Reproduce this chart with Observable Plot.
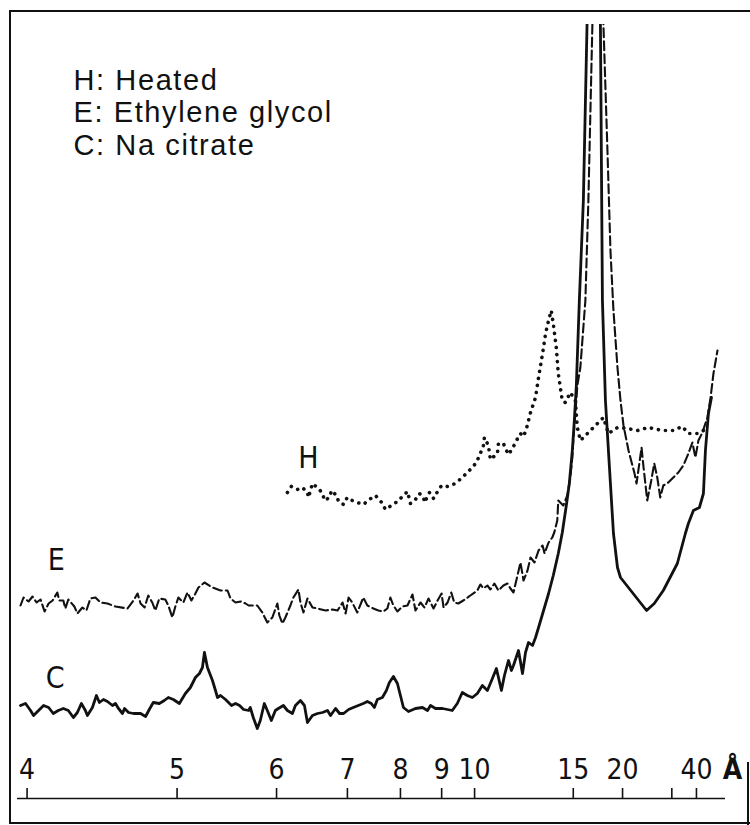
<!DOCTYPE html>
<html><head><meta charset="utf-8">
<script src="https://cdn.jsdelivr.net/npm/d3@7"></script>
<script src="https://cdn.jsdelivr.net/npm/@observablehq/plot@0.6"></script>
<style>
html,body{margin:0;padding:0;background:#fff;}
#wrap{position:relative;width:750px;height:825px;overflow:hidden;background:#fff;}
#chart{position:absolute;left:0;top:0;}
#frame{position:absolute;left:9px;top:10px;width:760px;height:810px;border-left:2px solid #111;border-top:2px solid #111;border-bottom:2px solid #111;z-index:2;pointer-events:none;}
#rightEdge{position:absolute;left:747px;top:762px;width:2px;height:63px;background:#111;z-index:2;}
</style></head><body>
<div id="wrap"><div id="chart"></div><div id="frame"></div><div id="rightEdge"></div></div>
<script>
// d-spacing ticks (Å) and their labels
const tickSpacings = [4, 5, 6, 7, 8, 9, 10, 15, 20, 30, 40];
const tickLabels   = ["4","5","6","7","8","9","10","15","20","","40"];
const unitLabel = "Å";
const seriesCodes = ["H", "E", "C"];
const seriesNames = ["Heated", "Ethylene glycol", "Na citrate"];

// traces: [2θ (deg, CuKα), intensity (arbitrary)]
const curveC = [
[22.42,95],[22.27,97],[22.12,90],[22.03,85],[21.88,90],[21.73,95],[21.58,93],[21.44,87],[21.29,90],[21.14,92],[20.99,90],[20.84,83],[20.72,88],[20.60,97],[20.48,90],[20.42,85],[20.27,93],[20.15,105],[20.06,98],[19.94,101],[19.82,99],[19.67,95],[19.58,97],[19.49,92],[19.37,87],[19.31,92],[19.19,88],[19.04,87],[18.83,87],[18.68,84],[18.57,91],[18.45,98],[18.27,97],[18.12,100],[18.00,103],[17.85,101],[17.67,97],[17.49,107],[17.34,113],[17.19,123],[17.07,127],[16.98,133],[16.92,148],[16.83,133],[16.68,120],[16.59,110],[16.53,103],[16.44,105],[16.29,101],[16.11,95],[15.99,97],[15.87,95],[15.75,91],[15.60,90],[15.55,93],[15.46,83],[15.34,72],[15.25,80],[15.13,97],[15.04,90],[14.92,80],[14.80,90],[14.71,92],[14.56,95],[14.44,90],[14.29,87],[14.20,95],[14.05,100],[13.93,95],[13.84,78],[13.69,85],[13.54,87],[13.39,88],[13.24,90],[13.15,85],[13.00,92],[12.88,87],[12.76,87],[12.61,91],[12.47,93],[12.32,95],[12.17,97],[12.05,99],[11.93,97],[11.84,93],[11.75,101],[11.60,103],[11.48,110],[11.39,118],[11.27,124],[11.15,117],[11.06,105],[10.97,93],[10.82,89],[10.61,92],[10.40,93],[10.25,90],[10.16,95],[10.01,92],[9.80,92],[9.51,90],[9.36,97],[9.21,108],[9.06,105],[8.91,103],[8.76,107],[8.61,115],[8.46,110],[8.31,122],[8.19,132],[8.04,110],[7.95,125],[7.83,140],[7.74,130],[7.68,135],[7.53,150],[7.41,127],[7.32,148],[7.23,158],[7.11,155],[7.02,163],[6.93,173],[6.78,190],[6.63,207],[6.49,225],[6.34,247],[6.22,268],[6.10,295],[6.01,317],[5.92,350],[5.86,380],[5.80,415],[5.71,500],[5.59,600],[5.48,776],[5.29,1400],[5.08,776],[5.02,500],[4.93,400],[4.81,333],[4.69,267],[4.57,233],[4.48,223],[3.70,190],[3.47,197],[3.20,210],[2.78,237],[2.54,267],[2.45,277],[2.30,290],[2.12,293],[2.00,307],[1.94,350],[1.85,387],[1.76,403]
];
const curveE = [
[22.42,195],[22.33,203],[22.18,199],[22.06,204],[21.94,198],[21.82,201],[21.70,189],[21.58,197],[21.46,200],[21.32,208],[21.26,200],[21.14,200],[21.08,192],[20.99,201],[20.81,194],[20.72,187],[20.57,193],[20.45,190],[20.33,202],[20.18,203],[20.03,198],[19.82,197],[19.58,194],[19.22,192],[19.04,200],[18.92,207],[18.83,197],[18.71,193],[18.60,205],[18.48,198],[18.39,190],[18.27,202],[18.09,201],[18.00,195],[17.88,183],[17.79,194],[17.70,203],[17.55,198],[17.43,208],[17.31,200],[17.19,207],[17.10,213],[16.92,218],[16.68,213],[16.44,210],[16.23,210],[16.14,202],[15.99,198],[15.84,199],[15.69,197],[15.60,195],[15.34,195],[15.19,188],[15.04,178],[14.89,183],[14.74,197],[14.68,185],[14.59,177],[14.50,183],[14.35,195],[14.26,203],[14.11,211],[14.05,198],[13.96,188],[13.84,202],[13.69,193],[13.54,192],[13.30,190],[13.09,191],[12.94,190],[12.79,198],[12.70,187],[12.61,203],[12.50,198],[12.35,188],[12.17,203],[12.05,195],[11.87,192],[11.72,190],[11.57,189],[11.45,192],[11.36,203],[11.27,195],[11.15,189],[11.00,194],[10.85,195],[10.70,206],[10.61,190],[10.46,198],[10.34,193],[10.22,202],[10.07,192],[9.95,200],[9.83,207],[9.77,193],[9.65,198],[9.54,208],[9.45,198],[9.33,197],[9.18,200],[8.97,205],[8.76,210],[8.67,216],[8.58,212],[8.46,215],[8.37,211],[8.25,217],[8.13,210],[7.98,215],[7.86,217],[7.77,212],[7.68,208],[7.56,225],[7.47,238],[7.38,220],[7.26,230],[7.17,243],[7.05,238],[6.93,250],[6.81,255],[6.75,247],[6.63,258],[6.52,263],[6.46,268],[6.37,280],[6.34,300],[6.19,295],[6.07,305],[5.98,323],[5.92,343],[5.89,360],[5.83,387],[5.77,415],[5.68,433],[5.53,500],[5.44,600],[5.32,776],[5.17,1400],[4.99,776],[4.87,650],[4.78,550],[4.69,490],[4.57,433],[4.48,400],[4.39,375],[4.24,350],[4.06,327],[4.00,317],[3.85,353],[3.79,333],[3.68,300],[3.56,320],[3.47,337],[3.38,323],[3.29,303],[3.20,315],[3.05,318],[2.90,323],[2.75,328],[2.60,335],[2.45,347],[2.33,358],[2.24,343],[2.15,360],[2.03,368],[1.88,383],[1.79,402],[1.70,427],[1.58,450]
];
const curveH = [
[14.44,308],[14.32,314],[14.14,311],[13.99,313],[13.84,308],[13.81,303],[13.69,317],[13.51,312],[13.39,307],[13.33,300],[13.18,303],[13.12,310],[12.97,305],[12.91,299],[12.76,296],[12.65,303],[12.50,300],[12.35,298],[12.17,296],[11.99,301],[11.81,305],[11.72,302],[11.60,297],[11.51,291],[11.33,295],[11.15,299],[10.97,305],[10.85,309],[10.76,297],[10.61,301],[10.49,307],[10.37,303],[10.34,298],[10.19,308],[10.07,302],[9.95,309],[9.83,315],[9.65,314],[9.48,316],[9.24,322],[9.06,328],[8.91,333],[8.79,338],[8.67,347],[8.58,355],[8.55,363],[8.43,355],[8.37,341],[8.16,347],[8.13,357],[7.98,357],[7.92,352],[7.83,346],[7.71,352],[7.59,360],[7.47,367],[7.38,364],[7.29,372],[7.17,388],[7.08,397],[7.02,403],[6.93,423],[6.81,447],[6.72,467],[6.63,480],[6.55,490],[6.49,477],[6.40,453],[6.34,427],[6.22,400],[6.13,398],[5.98,408],[5.83,400],[5.77,373],[5.68,360],[5.47,367],[5.17,377],[4.99,383],[4.84,367],[4.57,373],[4.27,372],[3.97,370],[3.65,373],[3.23,370],[2.90,370],[2.63,374],[2.45,367],[2.18,367],[2.00,370]
];
// curve label anchor points [2θ, intensity]
const labelPos = [[13.81, 342], [21.35, 240], [21.38, 122]];

const lambda = 1.5418;
const twoTheta = d => 2 * Math.asin(lambda / (2 * d)) * 180 / Math.PI;
const tickPos = tickSpacings.map(twoTheta);
const tickText = new Map(tickPos.map((t, i) => [t, tickLabels[i]]));

const narrow = "'Liberation Sans Narrow', 'DejaVu Sans Condensed', 'Arial Narrow', sans-serif";
const sans = "'Liberation Sans', Arial, Helvetica, sans-serif";
const ink = "#111";

const legendText = seriesCodes.map((c, i) => `${c}: ${seriesNames[i]}`).join("\n");
const labels = seriesCodes.map((c, i) => ({code: c, t: labelPos[i][0], v: labelPos[i][1]}));

const chart = Plot.plot({
  width: 750,
  height: 825,
  marginLeft: 17,
  marginRight: 25,
  marginTop: 24,
  marginBottom: 27,
  style: {background: "transparent", fontFamily: sans, color: ink},
  x: {domain: [22.51, 1.34], label: null},
  y: {domain: [2, 776], axis: null},
  marks: [
    Plot.ruleY([2], {stroke: ink, strokeWidth: 1.6}),
    Plot.ruleX(tickPos, {x: d => d, y1: 2, y2: 12, stroke: ink, strokeWidth: 1.6}),
    Plot.axisX(tickPos, {
      tickSize: 0, tickPadding: -20, lineAnchor: "bottom",
      tickFormat: t => tickText.get(t),
      fontSize: 28, fontFamily: narrow, fill: ink
    }),
    Plot.text([unitLabel], {text: d => d, frameAnchor: "bottom-right", dx: 7, dy: -20, lineAnchor: "bottom",
      textAnchor: "middle", fontSize: 28, fontWeight: "bold", fontFamily: narrow, fill: ink}),
    Plot.line(curveH, {x: d => d[0], y: d => d[1], stroke: ink, strokeWidth: 3.6,
      strokeDasharray: "0.1,7", strokeLinecap: "round", clip: true}),
    Plot.line(curveE, {x: d => d[0], y: d => d[1], stroke: ink, strokeWidth: 2.1,
      strokeDasharray: "9,4", clip: true}),
    Plot.line(curveC, {x: d => d[0], y: d => d[1], stroke: ink, strokeWidth: 2.8,
      strokeLinejoin: "round", clip: true}),
    Plot.text(labels, {x: "t", y: "v", text: "code", fontSize: 30, fontFamily: narrow, fill: ink,
      textAnchor: "middle", lineAnchor: "middle"}),
    Plot.text([legendText], {text: d => d, frameAnchor: "top-left", dx: 56, dy: 42, lineAnchor: "top",
      textAnchor: "start", fontSize: 29, lineHeight: 32.5 / 29, fontFamily: sans, fill: ink})
  ]
});
// widen the legend lettering to match the original typesetting
d3.select(chart).selectAll("text")
  .filter(function () { return this.textContent.includes(seriesNames[0]); })
  .style("letter-spacing", "1.6px");
document.getElementById("chart").appendChild(chart);
</script>
</body></html>
